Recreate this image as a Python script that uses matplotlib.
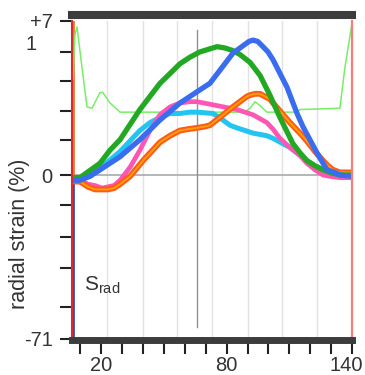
import matplotlib.pyplot as plt
import matplotlib.transforms as mtransforms

plt.rcParams['font.family'] = ['Liberation Sans', 'DejaVu Sans']

# time axis (frames) and strain curves, normalised so the "1" mark sits at 1.0
green_x = [7.0, 9.8, 19.4, 24.2, 29.0, 38.5, 48.1, 57.7, 62.5, 67.2, 75.4, 79.2, 83.0, 86.4, 91.2, 96.0,
           100.7, 105.5, 111.7, 115.1, 118.4, 122.3, 126.1, 129.4, 134.2, 140.0]
green_y = [-0.02, -0.02, 0.09, 0.19, 0.27, 0.50, 0.70, 0.85, 0.90, 0.94, 0.98, 0.97, 0.95, 0.92, 0.86, 0.76,
           0.61, 0.44, 0.24, 0.17, 0.11, 0.07, 0.04, 0.02, 0.0, 0.0]

blue_x = [7.0, 9.8, 14.6, 19.4, 29.0, 38.5, 48.1, 57.7, 67.2, 72.0, 76.8, 83.0, 86.4, 90.7, 92.6, 94.9,
          97.4, 99.8, 102.2, 108.9, 113.7, 116.5, 123.2, 128.0, 131.8, 134.2, 140.0]
blue_y = [-0.04, -0.04, -0.01, 0.04, 0.14, 0.27, 0.42, 0.55, 0.65, 0.70, 0.80, 0.93, 0.97, 1.02, 1.03, 1.02,
          0.98, 0.94, 0.88, 0.67, 0.47, 0.37, 0.17, 0.04, 0.02, 0.0, -0.01]

cyan_x = [7.0, 9.8, 19.4, 29.0, 38.5, 43.3, 48.1, 52.9, 57.7, 62.5, 65.8, 73.5, 78.2, 81.6, 84.9, 88.8,
          92.6, 99.3, 102.2, 110.3, 115.1, 118.4, 122.3, 126.1, 129.4, 134.2, 140.0]
cyan_y = [-0.02, -0.02, 0.05, 0.18, 0.34, 0.40, 0.44, 0.47, 0.47, 0.48, 0.48, 0.47, 0.42, 0.38, 0.36, 0.34,
          0.32, 0.30, 0.28, 0.21, 0.15, 0.11, 0.07, 0.04, 0.02, 0.0, -0.01]

pink_x = [7.0, 9.8, 13.7, 17.0, 20.4, 23.2, 26.1, 29.0, 33.8, 38.5, 43.3, 48.1, 52.9, 57.7, 62.5, 65.8,
          75.4, 84.9, 92.6, 99.3, 102.2, 105.5, 110.3, 115.1, 118.4, 122.3, 126.1, 129.4, 134.2, 140.0]
pink_y = [-0.04, -0.04, -0.07, -0.08, -0.10, -0.09, -0.08, -0.04, 0.06, 0.19, 0.34, 0.46, 0.52, 0.55, 0.56, 0.56,
          0.53, 0.50, 0.46, 0.40, 0.35, 0.28, 0.21, 0.15, 0.09, 0.04, 0.0, -0.01, -0.02, -0.02]

orange_x = [7.0, 9.8, 13.7, 17.0, 20.4, 23.2, 26.1, 29.0, 33.8, 40.0, 48.1, 52.9, 57.7, 61.5, 65.8, 69.6,
            72.0, 76.8, 83.0, 89.7, 91.2, 93.6, 96.0, 98.3, 100.7, 102.2, 106.5, 110.3, 115.1, 118.4, 122.3,
            126.1, 128.5, 130.9, 134.2, 140.0]
orange_y = [-0.05, -0.05, -0.09, -0.11, -0.11, -0.11, -0.10, -0.07, -0.01, 0.11, 0.25, 0.30, 0.34, 0.35, 0.36, 0.37,
            0.38, 0.44, 0.52, 0.60, 0.61, 0.62, 0.62, 0.60, 0.58, 0.55, 0.47, 0.40, 0.32, 0.26, 0.18,
            0.11, 0.07, 0.04, 0.02, 0.02]

lime_x = [6.5, 7.4, 8.4, 10.8, 13.2, 15.6, 19.4, 20.8, 24.2, 29.0, 88.8, 91.2, 93.6, 96.0, 99.3, 113.7, 115.1, 134.2, 136.6, 140.0]
lime_y = [0.73, 1.07, 1.13, 0.82, 0.52, 0.51, 0.63, 0.63, 0.55, 0.48, 0.48, 0.51, 0.56, 0.53, 0.48, 0.48, 0.50, 0.51, 0.82, 1.16]

grid_x = [22.7, 40.0, 56.2, 73.0, 90.2, 106.5, 123.2]
marker_x = 65.8
xtick_pos = [10, 20, 30, 40, 50, 60, 70, 80, 90, 100, 110, 120, 130, 140]
xtick_labels = ['', '20', '', '', '', '', '', '80', '', '', '', '', '', '140']
ytick_pos = [1.176, 0.94, 0.72, 0.49, 0.27, 0.0, -0.23, -0.47, -0.71, -1.01, -1.252]
ytick_labels = ['+7', '', '', '', '', '0', '', '', '', '', '-71']

fig = plt.figure(figsize=(3.65, 3.75), dpi=100)
ax = fig.add_axes([72 / 365, 1 - 339 / 375, 280 / 365, 318 / 375])
ax.set_xlim(6, 140)
ax.set_ylim(-1.252, 1.176)

for gx in grid_x:
    ax.axvline(gx, color='#e2e2e2', lw=1.0, zorder=1)
ax.axhline(0, color='#b0b0b0', lw=1.3, zorder=1)
ax.plot([marker_x, marker_x], [1.107, -1.16], color='#909090', lw=1.0, zorder=1)

# cursor traces at the left edge
ax.plot([6.5, 6.5], [0, -1.252], color='#3050c0', lw=2, zorder=2)
ax.plot([6.5, 6.5], [0, 1.176], color='#e07a30', lw=2, zorder=2)

ax.plot(lime_x, lime_y, color='#77ee66', lw=1.1, zorder=3)
style = dict(solid_capstyle='round', solid_joinstyle='round')
ax.plot(cyan_x, cyan_y, color='#22c4f0', lw=3.6, zorder=4, **style)
ax.plot(pink_x, pink_y, color='#ff55b4', lw=3.4, zorder=4, **style)
ax.plot(orange_x, orange_y, color='#ff5a1a', lw=4.2, zorder=5, **style)
ax.plot(orange_x, orange_y, color='#ffa200', lw=1.3, zorder=5, **style)
ax.plot(green_x, green_y, color='#22a822', lw=3.8, zorder=5, **style)
ax.plot(blue_x, blue_y, color='#3a6cf0', lw=3.8, zorder=6, **style)

ax.spines['top'].set_position(('outward', 4))
ax.spines['top'].set_linewidth(5.8)
ax.spines['top'].set_color('#3c3c3c')
ax.spines['bottom'].set_position(('outward', 1))
ax.spines['bottom'].set_linewidth(5.0)
ax.spines['bottom'].set_color('#3c3c3c')
ax.spines['left'].set_color('#e02a2a')
ax.spines['left'].set_linewidth(1.5)
ax.spines['right'].set_color('#ff7a7a')
ax.spines['right'].set_linewidth(1.6)
for s in ax.spines.values():
    s.set_zorder(8)

ax.set_xticks(xtick_pos)
ax.set_xticklabels(xtick_labels, fontsize=14.5, color='#333333')
ax.set_yticks(ytick_pos)
ax.set_yticklabels(ytick_labels, fontsize=14.5, color='#333333')
ax.tick_params(axis='x', direction='out', length=10, width=1.5, color='#222222', pad=1.5)
ax.tick_params(axis='y', direction='out', length=9, width=1.5, color='#222222', pad=5)

# pull the last x label inside the figure like the reference
last = ax.get_xticklabels()[-1]
last.set_transform(last.get_transform() + mtransforms.ScaledTranslation(-6 / 100, 0, fig.dpi_scale_trans))

fig.text(37 / 365, 1 - 44 / 375, '1', fontsize=14.5, color='#333333', ha='right', va='center')
fig.text(20 / 365, 1 - 234 / 375, 'radial strain (%)', fontsize=15.5, color='#333333',
         rotation=90, ha='center', va='center')
ax.text(11.8, -0.88, r'S$_{\mathregular{rad}}$', fontsize=15, color='#333333', ha='left', va='baseline')

fig.savefig('out.png', dpi=100)
